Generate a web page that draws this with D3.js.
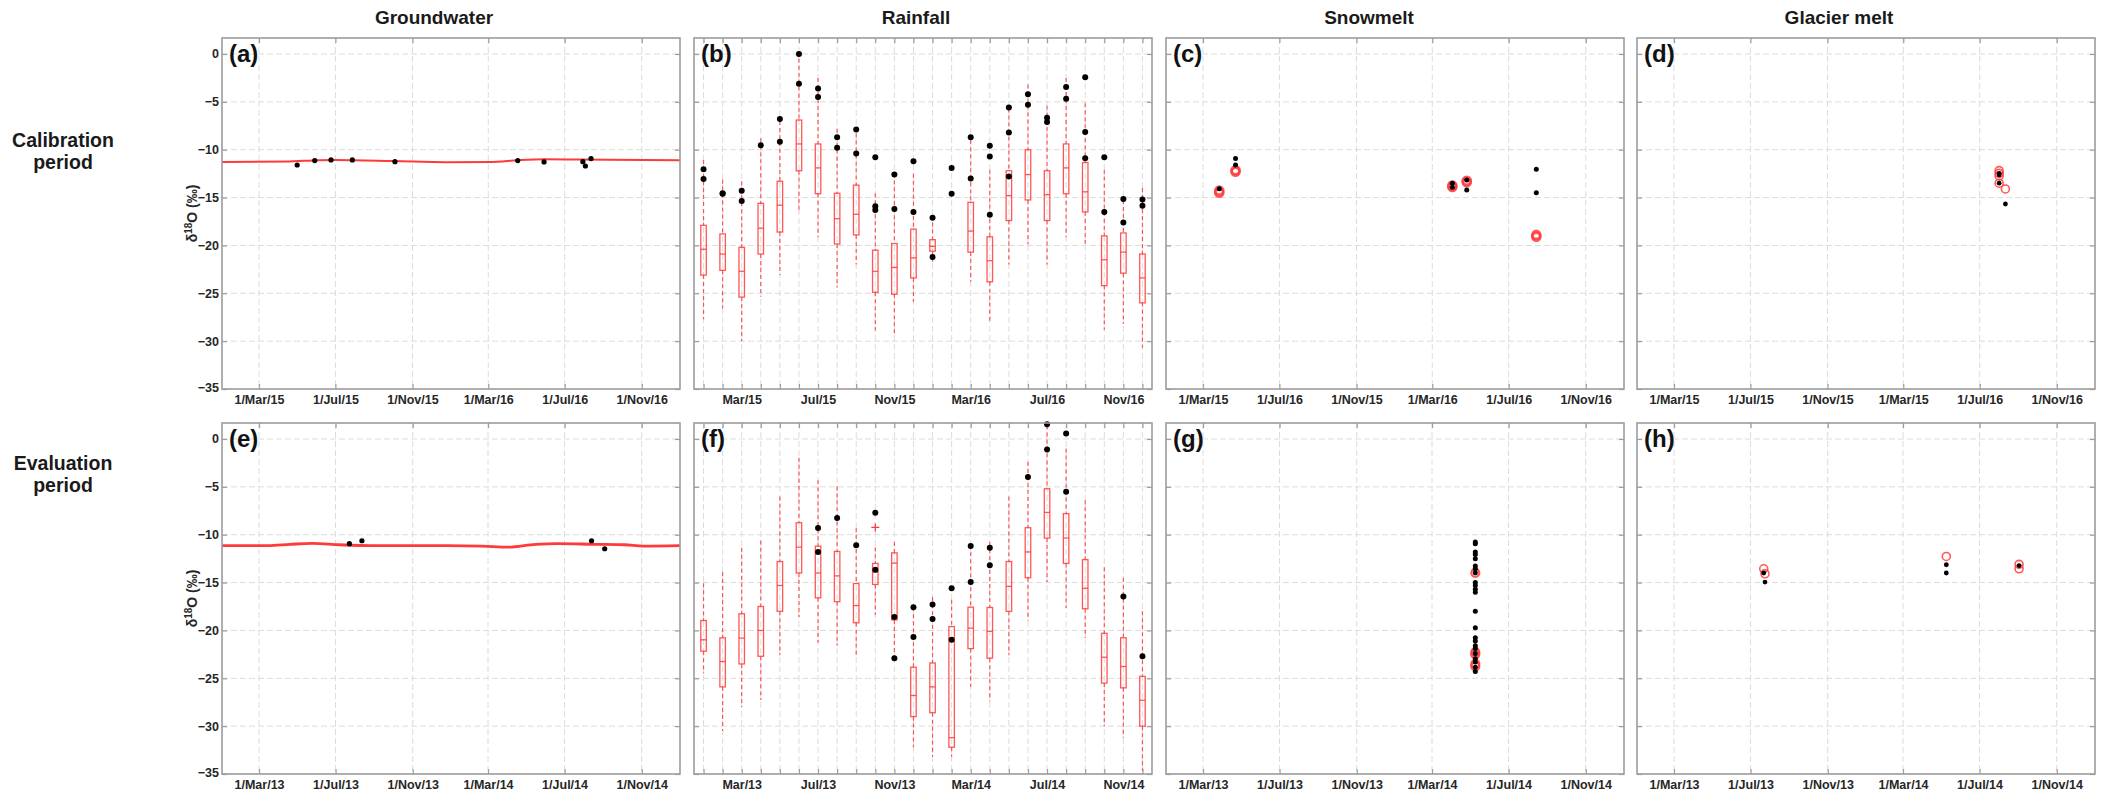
<!DOCTYPE html>
<html>
<head>
<meta charset="utf-8">
<script src="https://cdn.jsdelivr.net/npm/d3@7"></script>
<style>
  body { margin: 0; background: #fff; }
  svg { display: block; font-family: "Liberation Sans", Arial, sans-serif; }
</style>
</head>
<body>
<svg id="chart" width="2108" height="795"></svg>
<script>
// ---- data ----
const columnTitles = ["Groundwater", "Rainfall", "Snowmelt", "Glacier melt"];
const rowTitles = [["Calibration", "period"], ["Evaluation", "period"]];
const panelLetters = [["(a)", "(b)", "(c)", "(d)"], ["(e)", "(f)", "(g)", "(h)"]];

const yTicks = [0, -5, -10, -15, -20, -25, -30, -35];

const calTickLabels = ["1/Mar/15", "1/Jul/15", "1/Nov/15", "1/Mar/16", "1/Jul/16", "1/Nov/16"];
const calSnowTickLabels = ["1/Mar/15", "1/Jul/16", "1/Nov/15", "1/Mar/16", "1/Jul/16", "1/Nov/16"];
const calGlacierTickLabels = ["1/Mar/15", "1/Jul/15", "1/Nov/15", "1/Mar/15", "1/Jul/16", "1/Nov/16"];
const evaTickLabels = ["1/Mar/13", "1/Jul/13", "1/Nov/13", "1/Mar/14", "1/Jul/14", "1/Nov/14"];
const calMonthLabels = ["Mar/15", "Jul/15", "Nov/15", "Mar/16", "Jul/16", "Nov/16"];
const evaMonthLabels = ["Mar/13", "Jul/13", "Nov/13", "Mar/14", "Jul/14", "Nov/14"];

const calTickDates = ["2015-03-01", "2015-07-01", "2015-11-01", "2016-03-01", "2016-07-01", "2016-11-01"];
const evaTickDates = ["2013-03-01", "2013-07-01", "2013-11-01", "2014-03-01", "2014-07-01", "2014-11-01"];
const monthPositions = d3.range(1, 25);
const labelledMonths = [3, 7, 11, 15, 19, 23];

// groundwater: simulated line and observed samples
const gwCalLine = [["2015-01-01", -11.28], ["2015-04-20", -11.22], ["2015-05-26", -11.12], ["2015-06-30", -11.08],
  ["2015-10-01", -11.18], ["2015-12-25", -11.3], ["2016-03-06", -11.28], ["2016-04-17", -11.1],
  ["2016-05-30", -11.0], ["2016-07-26", -11.02], ["2017-01-01", -11.1]];
const gwCalObs = [["2015-05-01", -11.6], ["2015-05-29", -11.14], ["2015-06-24", -11.07], ["2015-07-28", -11.07],
  ["2015-10-04", -11.25], ["2016-04-17", -11.14], ["2016-05-29", -11.28], ["2016-07-30", -11.25],
  ["2016-08-03", -11.7], ["2016-08-12", -10.93]];
const gwEvaLine = [["2013-01-01", -11.15], ["2013-03-15", -11.15], ["2013-04-20", -11.0], ["2013-05-25", -10.9],
  ["2013-07-07", -11.05], ["2013-09-09", -11.15], ["2013-12-25", -11.15], ["2014-02-20", -11.2],
  ["2014-04-03", -11.3], ["2014-05-16", -11.0], ["2014-06-21", -10.93], ["2014-08-17", -11.0],
  ["2014-10-05", -11.05], ["2014-11-03", -11.2], ["2015-01-01", -11.15]];
const gwEvaObs = [["2013-07-23", -10.94], ["2013-08-12", -10.63], ["2014-08-13", -10.63], ["2014-09-03", -11.47]];

// rainfall: monthly boxes [low whisker, q1, median, q3, high whisker]
const rainCalBoxes = [
  [-27.7, -23.1, -20.4, -17.9, -11.07], [-26.6, -22.6, -20.9, -18.8, -13.1], [-30.0, -25.4, -22.7, -20.2, -13.3],
  [-25.35, -20.9, -18.2, -15.6, -8.8], [-23.1, -18.6, -15.8, -13.3, -7.0], [-16.6, -12.2, -9.4, -6.9, -0.5],
  [-19.15, -14.6, -11.9, -9.4, -2.5], [-24.4, -19.85, -17.2, -14.55, -7.8], [-22.0, -18.9, -16.75, -13.7, -8.3],
  [-28.9, -24.9, -22.7, -20.5, -14.55], [-29.5, -25.1, -22.3, -19.8, -13.2], [-25.9, -23.4, -21.3, -18.3, -12.5],
  [-21.7, -20.6, -20.1, -19.4, -17.6], null, [-23.8, -20.7, -18.5, -15.5, -9.0],
  [-28.1, -23.8, -21.6, -19.1, -12.1], [-22.0, -17.4, -14.8, -12.2, -5.7], [-19.9, -15.25, -12.6, -10.0, -3.2],
  [-22.0, -17.4, -14.7, -12.2, -5.4], [-19.15, -14.6, -11.9, -9.4, -2.5], [-19.9, -16.5, -14.4, -11.35, -5.15],
  [-28.8, -24.2, -21.5, -19.0, -12.1], [-28.2, -22.9, -20.7, -18.7, -15.25], [-30.7, -26.0, -23.4, -20.9, -14.0]];
const rainCalObs = [[1, -12.05], [1, -13.06], [2, -14.55], [2, -14.6], [3, -14.3], [3, -15.35], [4, -9.54],
  [5, -6.8], [5, -9.16], [6, 0], [6, -3.1], [7, -3.6], [7, -4.5], [8, -8.7], [8, -9.8], [9, -7.9], [9, -10.4],
  [10, -10.8], [10, -15.9], [10, -16.3], [11, -12.6], [11, -16.2], [12, -11.2], [12, -16.5], [13, -17.1],
  [13, -21.2], [14, -11.9], [14, -14.6], [15, -8.7], [15, -13.0], [16, -9.6], [16, -10.7], [16, -16.8],
  [17, -5.6], [17, -8.2], [17, -12.8], [18, -4.2], [18, -5.3], [19, -6.65], [19, -7.1], [20, -3.45],
  [20, -4.67], [21, -2.44], [21, -8.15], [21, -10.9], [22, -10.8], [22, -16.5], [23, -15.15], [23, -17.6],
  [24, -15.2], [24, -15.85]];
const rainEvaBoxes = [
  [-24.5, -22.17, -20.98, -18.96, -15.06], [-30.5, -25.9, -23.25, -20.77, -13.9], [-28.0, -23.5, -20.8, -18.26, -11.36],
  [-27.26, -22.7, -20.0, -17.5, -10.6], [-22.6, -18.0, -15.3, -12.8, -6.0], [-18.6, -14.0, -11.3, -8.75, -1.95],
  [-21.3, -16.6, -14.0, -11.2, -4.3], [-21.6, -17.0, -14.3, -11.75, -4.95], [-22.8, -19.2, -17.4, -15.1, -9.3],
  [-18.4, -15.2, -13.9, -13.0, -11.3], [-23.0, -18.9, -12.97, -11.9, -10.77], [-32.2, -29.0, -26.8, -23.84, -17.57],
  [-33.2, -28.6, -25.9, -23.4, -16.5], [-33.2, -32.2, -31.2, -19.6, -16.8], [-25.9, -21.9, -19.76, -17.57, -11.1],
  [-27.4, -22.9, -20.1, -17.6, -10.77], [-22.6, -18.0, -15.4, -12.8, -6.0], [-19.0, -14.5, -11.8, -9.27, -2.4],
  [-14.95, -10.35, -7.67, -5.2, 1.4], [-17.67, -13.0, -10.35, -7.8, -1.0], [-20.8, -17.74, -15.6, -12.6, -6.4],
  [-30.0, -25.5, -22.8, -20.3, -13.4], [-31.2, -26.0, -23.77, -20.77, -14.5], [-34.65, -30.0, -27.3, -24.8, -18.0]];
const rainEvaObs = [[7, -9.3], [7, -11.8], [8, -8.26], [9, -11.1], [10, -7.7], [10, -13.66], [11, -18.6],
  [11, -22.9], [12, -17.57], [12, -20.7], [13, -17.3], [13, -18.8], [14, -15.6], [14, -20.98], [15, -11.19],
  [15, -14.95], [16, -11.36], [16, -13.2], [18, -3.97], [19, 1.53], [19, -1.1], [20, 0.56], [20, -5.5],
  [23, -16.45], [24, -22.7]];
const rainEvaOutliers = [[10, -9.24]];

// snowmelt and glacier melt: simulated (red circles) and observed (black dots)
const snowCalSim = [["2015-03-27", -14.28], ["2015-03-27", -14.5], ["2015-04-22", -12.3], ["2015-04-22", -12.15],
  ["2016-04-02", -13.75], ["2016-04-02", -13.9], ["2016-04-25", -13.4], ["2016-04-25", -13.25],
  ["2016-08-14", -18.9], ["2016-08-14", -19.1]];
const snowCalObs = [["2015-03-27", -14.07], ["2015-04-22", -10.93], ["2015-04-22", -11.6], ["2016-04-02", -13.5],
  ["2016-04-02", -13.93], ["2016-04-25", -13.16], ["2016-04-25", -14.2], ["2016-08-14", -12.05],
  ["2016-08-14", -14.5]];
const glacierCalSim = [["2016-08-01", -12.19], ["2016-08-01", -12.47], ["2016-08-01", -12.74], ["2016-08-01", -13.5],
  ["2016-08-11", -14.1]];
const glacierCalObs = [["2016-08-01", -12.47], ["2016-08-01", -12.64], ["2016-08-01", -13.5], ["2016-08-11", -15.67]];
const snowEvaSim = [["2014-05-09", -13.98], ["2014-05-09", -22.27], ["2014-05-09", -22.5], ["2014-05-09", -23.5],
  ["2014-05-09", -23.77]];
const snowEvaObsValues = [-10.77, -10.94, -11.8, -12.06, -12.5, -13.28, -13.56, -13.98, -15.0, -15.3, -15.7, -16.0,
  -18.0, -19.73, -20.77, -21.1, -21.6, -21.9, -22.4, -22.97, -23.3, -23.84, -24.3];
const snowEvaObs = snowEvaObsValues.map(v => ["2014-05-09", v]);
const glacierEvaSim = [["2013-07-22", -13.56], ["2013-07-24", -14.08], ["2014-05-09", -12.27], ["2014-09-02", -13.1],
  ["2014-09-02", -13.56]];
const glacierEvaObs = [["2013-07-22", -14.0], ["2013-07-24", -14.95], ["2014-05-09", -13.14], ["2014-05-09", -14.0],
  ["2014-09-02", -13.24]];

// ---- layout ----
const colLeft = [222, 694, 1166, 1637];
const rowTop = [38, 423];
const pw = 458, ph = 351;
const RED = "#ff3a3a", GRID = "#dcdcdc", FRAME = "#9c9c9c", TXT = "#262626";
const parse = d3.timeParse("%Y-%m-%d");
const calDomain = [parse("2015-01-01"), parse("2017-01-01")];
const evaDomain = [parse("2013-01-01"), parse("2015-01-01")];

const svg = d3.select("#chart");

function drawPanel(row, col, opt) {
  const g = svg.append("g").attr("transform", `translate(${colLeft[col]},${rowTop[row]})`);
  const y = d3.scaleLinear().domain([-35, 1.67]).range([ph, 0]);
  let x, ticks, fmt;
  if (opt.box) {
    x = d3.scaleLinear().domain([0.5, 24.5]).range([0, pw]);
    ticks = monthPositions;
    fmt = d => labelledMonths.includes(d) ? opt.labels[labelledMonths.indexOf(d)] : "";
  } else {
    x = d3.scaleTime().domain(opt.domain).range([0, pw]);
    ticks = opt.tickDates.map(parse);
    fmt = (d, i) => opt.labels[i];
  }

  // dashed grid
  g.append("g").selectAll("line").data(yTicks.slice(0, -1)).join("line")
    .attr("x1", 0).attr("x2", pw).attr("y1", d => y(d)).attr("y2", d => y(d))
    .attr("stroke", GRID).attr("stroke-dasharray", "6,3");
  g.append("g").selectAll("line").data(ticks).join("line")
    .attr("x1", d => x(d)).attr("x2", d => x(d)).attr("y1", 0).attr("y2", ph)
    .attr("stroke", GRID).attr("stroke-dasharray", "6,3");

  // axes with inward ticks
  const bottom = g.append("g").attr("transform", `translate(0,${ph})`)
    .call(d3.axisBottom(x).tickValues(ticks).tickFormat(fmt).tickSize(-5).tickPadding(6));
  const top = g.append("g").call(d3.axisTop(x).tickValues(ticks).tickFormat("").tickSize(-5));
  const left = g.append("g").call(d3.axisLeft(y).tickValues(yTicks).tickSize(-5).tickPadding(3)
    .tickFormat(col === 0 ? d3.format("d") : ""));
  const right = g.append("g").attr("transform", `translate(${pw},0)`)
    .call(d3.axisRight(y).tickValues(yTicks).tickFormat("").tickSize(-5));
  [bottom, top, left, right].forEach(a => {
    a.select(".domain").remove();
    a.selectAll(".tick line").attr("stroke", FRAME).attr("stroke-width", 1.2);
    a.selectAll("text").attr("fill", TXT).attr("font-size", 12.5).attr("font-weight", "bold")
      .attr("font-family", "'Liberation Sans', Arial, sans-serif");
  });
  left.selectAll(".tick").filter(d => d === -35).select("text").attr("dy", "0.2em");

  // series
  if (opt.box) {
    const boxes = opt.boxes.map((b, i) => ({ pos: i + 1, v: b })).filter(d => d.v);
    const bw = 5.5;
    const bg = g.append("g").selectAll("g").data(boxes).join("g");
    bg.append("line").attr("x1", d => x(d.pos)).attr("x2", d => x(d.pos))
      .attr("y1", d => y(d.v[4])).attr("y2", d => y(d.v[3]));
    bg.append("line").attr("x1", d => x(d.pos)).attr("x2", d => x(d.pos))
      .attr("y1", d => y(d.v[1])).attr("y2", d => y(d.v[0]));
    bg.selectAll("line").attr("stroke", RED).attr("stroke-width", 1.2).attr("stroke-dasharray", "4,3")
      .attr("stroke-opacity", 0.85);
    bg.append("rect").attr("x", d => x(d.pos) - bw / 2).attr("width", bw)
      .attr("y", d => y(d.v[3])).attr("height", d => y(d.v[1]) - y(d.v[3]))
      .attr("fill", "none").attr("stroke", RED).attr("stroke-width", 1.3).attr("stroke-opacity", 0.85);
    bg.append("line").attr("x1", d => x(d.pos) - bw / 2).attr("x2", d => x(d.pos) + bw / 2)
      .attr("y1", d => y(d.v[2])).attr("y2", d => y(d.v[2]))
      .attr("stroke", RED).attr("stroke-width", 1.3).attr("stroke-opacity", 0.85);
    if (opt.outliers) {
      g.append("g").selectAll("path").data(opt.outliers).join("path")
        .attr("d", d => `M${x(d[0]) - 4},${y(d[1])}h8M${x(d[0])},${y(d[1]) - 4}v8`)
        .attr("stroke", RED).attr("stroke-width", 1.3);
    }
    g.append("g").selectAll("circle").data(opt.obs).join("circle")
      .attr("cx", d => x(d[0])).attr("cy", d => y(d[1])).attr("r", 3).attr("fill", "#000");
  } else {
    if (opt.line) {
      const line = d3.line().x(d => x(parse(d[0]))).y(d => y(d[1])).curve(d3.curveMonotoneX);
      g.append("path").datum(opt.line).attr("d", line)
        .attr("fill", "none").attr("stroke", RED).attr("stroke-width", opt.lineWidth);
    }
    if (opt.sim) {
      g.append("g").selectAll("circle").data(opt.sim).join("circle")
        .attr("cx", d => x(parse(d[0]))).attr("cy", d => y(d[1])).attr("r", 4)
        .attr("fill", "none").attr("stroke", RED).attr("stroke-width", opt.simWidth).attr("stroke-opacity", 0.85);
    }
    g.append("g").selectAll("circle").data(opt.obs).join("circle")
      .attr("cx", d => x(parse(d[0]))).attr("cy", d => y(d[1])).attr("r", opt.dot)
      .attr("fill", "#000");
  }

  // frame and panel letter
  g.append("rect").attr("width", pw).attr("height", ph)
    .attr("fill", "none").attr("stroke", FRAME).attr("stroke-width", 1.6);
  g.append("text").attr("x", 7).attr("y", 24).text(panelLetters[row][col])
    .attr("font-size", 24).attr("font-weight", "bold").attr("fill", "#111");
}

drawPanel(0, 0, { domain: calDomain, tickDates: calTickDates, labels: calTickLabels, line: gwCalLine, lineWidth: 2, obs: gwCalObs, dot: 2.6 });
drawPanel(0, 1, { box: true, labels: calMonthLabels, boxes: rainCalBoxes, obs: rainCalObs });
drawPanel(0, 2, { domain: calDomain, tickDates: calTickDates, labels: calSnowTickLabels, sim: snowCalSim, simWidth: 2.6, obs: snowCalObs, dot: 2.5 });
drawPanel(0, 3, { domain: calDomain, tickDates: calTickDates, labels: calGlacierTickLabels, sim: glacierCalSim, simWidth: 1.6, obs: glacierCalObs, dot: 2.4 });
drawPanel(1, 0, { domain: evaDomain, tickDates: evaTickDates, labels: evaTickLabels, line: gwEvaLine, lineWidth: 2.8, obs: gwEvaObs, dot: 2.6 });
drawPanel(1, 1, { box: true, labels: evaMonthLabels, boxes: rainEvaBoxes, obs: rainEvaObs, outliers: rainEvaOutliers });
drawPanel(1, 2, { domain: evaDomain, tickDates: evaTickDates, labels: evaTickLabels, sim: snowEvaSim, simWidth: 2.2, obs: snowEvaObs, dot: 2.5 });
drawPanel(1, 3, { domain: evaDomain, tickDates: evaTickDates, labels: evaTickLabels, sim: glacierEvaSim, simWidth: 1.6, obs: glacierEvaObs, dot: 2.4 });

// column titles
const titleX = [434, 916, 1369, 1839];
svg.append("g").selectAll("text").data(columnTitles).join("text")
  .attr("x", (d, i) => titleX[i]).attr("y", 24).attr("text-anchor", "middle")
  .attr("font-size", 19).attr("font-weight", "bold").attr("fill", "#1a1a1a").text(d => d);

// row titles
const rowLabelY = [147, 470];
rowTitles.forEach((lines, r) => {
  const t = svg.append("text").attr("text-anchor", "middle").attr("font-size", 19.5)
    .attr("font-weight", "bold").attr("fill", "#1a1a1a");
  lines.forEach((s, k) => t.append("tspan").attr("x", 63).attr("y", rowLabelY[r] + k * 22).text(s));
});

// y axis titles
rowTop.forEach(top => {
  const t = svg.append("text")
    .attr("transform", `translate(197,${top + ph / 2}) rotate(-90)`)
    .attr("text-anchor", "middle").attr("font-size", 14).attr("font-weight", "bold").attr("fill", TXT);
  t.append("tspan").text("δ");
  t.append("tspan").attr("font-size", 10).attr("dy", -5).text("18");
  t.append("tspan").attr("dy", 5).text("O (‰)");
});
</script>
</body>
</html>
